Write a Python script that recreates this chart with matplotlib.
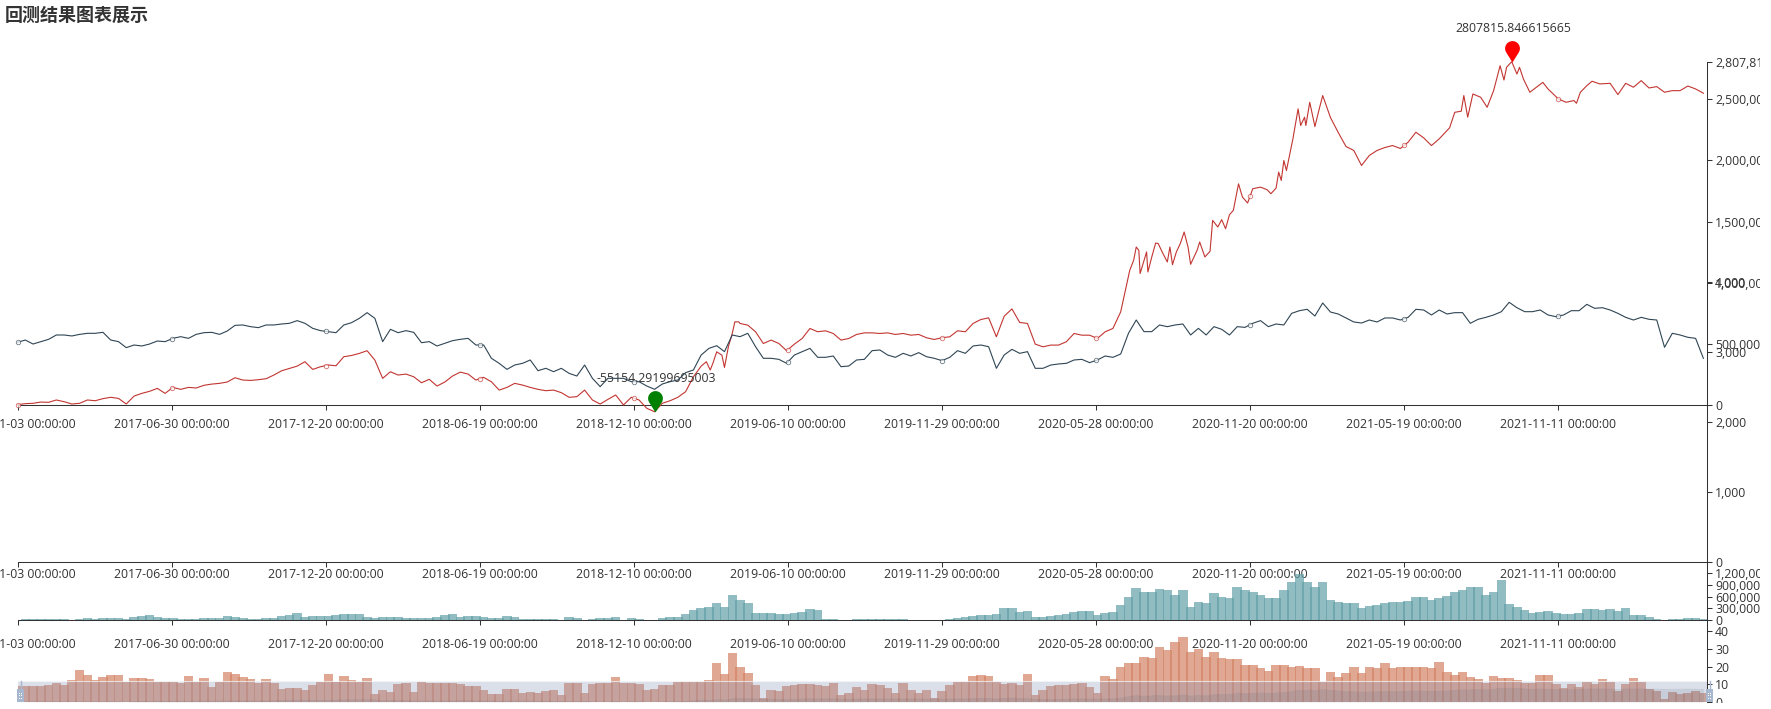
import numpy as np
import matplotlib
matplotlib.use("Agg")
import matplotlib.pyplot as plt
from matplotlib.lines import Line2D
from matplotlib.patches import Rectangle
from matplotlib.path import Path

plt.rcParams['font.family'] = ['Open Sans', 'Noto Sans CJK SC', 'DejaVu Sans']

W, H = 1771, 709
INK = '#333333'
PX = 72 / 100  # points per pixel at dpi 100
LABEL_SIZE = 12.3 * PX

title = '回测结果图表展示'
tick_dates = ['2017-01-03', '2017-06-30', '2017-12-20', '2018-06-19', '2018-12-10', '2019-06-10',
              '2019-11-29', '2020-05-28', '2020-11-20', '2021-05-19', '2021-11-11']
days_per_tick = 119
total_days = 1304.8
sample_step = 6

peak_value = 2807815.846615665
trough_value = -55154.29199695003

# strategy equity, thousands, one reading every six trading days
equity_k = [
    3, 11, 14, 24, 22, 41, 27, 8, 14, 41, 35, 52, 63, 54, 8, 73, 95, 112, 136, 95,
    144, 128, 144, 139, 161, 171, 177, 188, 223, 204, 201, 207, 215, 245, 280, 299, 318, 354, 291, 313,
    327, 321, 395, 405, 422, 444, 367, 218, 272, 245, 253, 231, 182, 210, 155, 188, 237, 269, 253, 204,
    226, 190, 122, 144, 177, 163, 144, 128, 117, 122, 101, 63, 68, 122, 41, 8, 46,
    82, 0, 63, 41, -27, -55, 14, 35, 63, 109, 231, 318, 354, 422, 307, 667, 667, 653, 599, 503,
    531, 503, 444, 498, 544, 626, 599, 607, 585, 531, 544, 577, 590, 590, 585, 590, 577, 585, 571, 577,
    550, 536, 550, 558, 607, 599, 667, 699, 713, 558, 726, 786, 675, 667, 498, 476, 490, 490, 517, 585,
    571, 571, 544, 599, 626, 762, 939, 1265, 1184, 1211, 1292, 1197, 1252, 1401, 1151, 1292, 1216, 1510, 1510, 1551,
    1796, 1701, 1769, 1777, 1755, 1782, 1994, 2177, 2394, 2394, 2277,
    2531, 2351, 2229, 2114, 2082, 1959, 2041, 2082, 2106, 2122, 2098,
    2150, 2231, 2185, 2122, 2177, 2218, 2386, 2517, 2435, 2522, 2435, 2571, 2762, 2808, 2713, 2626, 2577, 2631, 2585, 2517,
    2476, 2490, 2544, 2612, 2639,
    2593, 2631, 2539, 2631, 2599, 2653, 2593, 2604, 2558, 2571, 2571, 2609, 2585, 2550,
]

# closer readings through the most volatile stretches of the equity curve
equity_detail_days = [
    528, 532, 535, 537, 540, 544, 546, 549, 552, 554, 557,
    859, 862, 864, 866, 867, 872, 873, 876, 879, 881, 884, 888, 890, 892, 895, 898, 901, 904, 906, 911,
    913, 917, 921, 923, 927, 930, 933, 936, 939, 943, 946, 950, 954, 960, 965, 968, 972, 974, 976, 978,
    980, 985, 987, 989, 991, 994, 995, 998, 1002, 1005,
    1106, 1110, 1115, 1117, 1120, 1124, 1130, 1135, 1140, 1145, 1148, 1150, 1154, 1158, 1160, 1163, 1168,
    1173, 1178, 1182, 1190, 1196, 1202, 1204, 1207, 1212, 1216, 1222,
]
equity_detail_k = [
    318, 354, 286, 340, 435, 408, 307, 476, 585, 680, 680,
    1102, 1184, 1292, 1265, 1075, 1252, 1088, 1211, 1325, 1320, 1252, 1170, 1292, 1148, 1252, 1320, 1415, 1292, 1151, 1265,
    1333, 1211, 1257, 1510, 1456, 1516, 1442, 1556, 1592, 1809, 1701, 1652, 1769, 1782, 1761, 1728, 1774, 1905, 1837, 2000,
    1918, 2177, 2299, 2422, 2286, 2354, 2286, 2476, 2277, 2408,
    2267, 2394, 2403, 2531, 2354, 2544, 2517, 2435, 2571, 2775, 2658, 2762, 2808, 2707, 2762, 2667, 2558,
    2599, 2639, 2585, 2503, 2476, 2490, 2468, 2558, 2612, 2648, 2626,
]

# benchmark level, read against the 0-4,000 axis
benchmark = [
    3138, 3171, 3114, 3148, 3181, 3243, 3243, 3229, 3252, 3267, 3267, 3281, 3171, 3148, 3062, 3100, 3086, 3114, 3157, 3148,
    3195, 3219, 3195, 3252, 3276, 3281, 3252, 3300, 3381, 3386, 3362, 3348, 3386, 3386, 3400, 3410, 3448, 3410, 3338, 3305,
    3291, 3276, 3386, 3419, 3481, 3562, 3481, 3148, 3324, 3276, 3305, 3281, 3133, 3148, 3086, 3124, 3162, 3181, 3195, 3100,
    3100, 2910, 2838, 2752, 2814, 2838, 2886, 2733, 2767, 2719, 2767, 2695, 2657, 2814, 2624, 2505, 2624,
    2624, 2624, 2576, 2576, 2514, 2467, 2543, 2576, 2600, 2705, 2743, 2957, 3052, 3090, 3005, 3243, 3219, 3267, 3076, 2910,
    2910, 2895, 2838, 2957, 3005, 3052, 2924, 2924, 2943, 2790, 2800, 2886, 2895, 3019, 3029, 2957, 2924, 2981, 2943, 2991,
    2933, 2910, 2876, 2924, 3019, 2981, 3086, 3100, 3076, 2767, 2957, 3038, 2981, 3005, 2767, 2767, 2814, 2829, 2838, 2886,
    2895, 2848, 2886, 2943, 2924, 2971, 3267, 3457, 3291, 3291, 3386, 3362, 3386, 3400, 3243, 3338, 3243, 3362, 3324, 3243,
    3362, 3352, 3410, 3448, 3362, 3400, 3386, 3552, 3590, 3610, 3514,
    3700, 3571, 3543, 3486, 3429, 3414, 3457, 3429, 3486, 3486, 3457,
    3495, 3610, 3600, 3529, 3600, 3543, 3562, 3562, 3410, 3467, 3495, 3529, 3576, 3710, 3633, 3576, 3576, 3600, 3529, 3505,
    3529, 3590, 3590, 3681, 3624, 3633, 3600, 3552, 3495, 3457, 3495, 3467, 3457, 3067, 3267, 3243, 3210, 3195, 2910,
]

# position value, thousands
position_k = [
    8, 17, 25, 34, 25, 34, 34, 8, 25, 42, 34, 42, 59, 51, 25, 68, 101, 127, 85, 59,
    59, 25, 34, 25, 42, 59, 51, 93, 85, 42, 17, 25, 51, 59, 101, 118, 169, 85, 93, 93,
    110, 127, 144, 161, 152, 68, 59, 85, 85, 68, 51, 42, 51, 42, 85, 127, 161, 68, 93, 93,
    68, 42, 51,
    101, 85, 34, 25, 34, 34, 17, 8, 68, 42, 8, 25, 51, 42, 68, 8, 59, 25, 8, 8,
    59, 76, 85, 152, 254, 313, 321, 423, 338, 634, 507, 439, 169, 169, 186, 152, 144, 169, 211, 279,
    254, 17, 25, -17, 8, 17, 34, 25, 25, 17, 25, 25, 8, 8, 8, 8, 8, 17, 51, 68,
    101, 127, 135, 152,
    296, 313, 211, 237, 85, 85, 101, 127, 152, 211, 228, 228, 127, 169, 211, 380, 592, 820, 718, 718,
    803, 761, 634, 777, 338, 465, 423, 693, 592, 549, 845, 761, 718, 634, 549, 549, 761, 972, 1183, 972,
    845, 972, 507, 465, 423, 423, 296, 355, 380, 439, 465, 465, 490, 592, 575, 507, 549, 608, 718, 761,
    845, 845, 634, 718,
    1014, 397, 338, 254, 186, 211, 237, 186, 144, 152, 186, 270, 279, 254, 279, 237, 296, 118, 127, 85,
    17, 8, 17, 34, 51, 51, 17,
]

# holding count
holdings = [
    8.8, 8.8, 8.8, 8.8, 9.8, 10.7, 9.8, 12.6, 17.9, 15.0, 12.2, 14.1, 15.0, 15.0, 11.3, 13.7, 13.7, 13.2, 11.3, 11.3,
    11.3, 10.7, 14.5, 11.3, 13.7, 8.5, 11.3, 16.9, 15.6, 14.1, 13.2, 10.7, 13.2, 10.7, 7.5, 7.9, 7.9, 6.6, 9.4, 11.3,
    15.6, 11.3, 14.5, 12.2, 11.3, 13.7, 4.7, 6.6, 5.6, 10.3, 10.7, 5.6, 11.3, 10.7, 10.7, 10.7, 10.7, 10.0, 9.0, 9.0,
    6.6, 4.3, 4.3,
    7.1, 7.1, 5.3, 5.8, 5.3, 6.4, 6.8, 3.9, 10.5, 10.5, 5.3, 10.0, 10.9, 10.5, 14.3, 10.5, 10.5, 10.2, 6.8, 7.1,
    9.6, 9.6, 11.1, 11.1, 11.1, 11.1, 12.4, 21.8, 15.8, 27.4, 19.9, 16.5, 9.6, 2.1, 6.8, 6.4, 9.0, 9.6, 10.2, 10.2,
    9.6, 9.0, 10.5, 3.9, 4.9, 8.3, 6.8, 10.2, 9.6, 7.7, 4.9, 10.9, 6.8, 5.3, 6.8, 2.1, 6.4, 9.6, 11.1, 11.1,
    14.7, 15.2, 14.7, 11.5,
    10.2, 10.5, 9.6, 15.8, 3.9, 6.8, 9.0, 9.6, 9.6, 10.2, 10.9, 8.6, 5.3, 14.7, 13.0, 19.6, 22.2, 22.2, 25.6, 24.6,
    31.2, 29.3, 34.0, 36.8, 28.4, 29.7, 25.2, 28.4, 24.6, 24.1, 24.1, 20.9, 20.9, 19.0, 17.7, 20.9, 20.9, 19.9, 20.3, 19.0,
    19.0, 11.5, 17.1, 14.3, 16.2, 19.9, 16.2, 19.9, 19.0, 21.8, 19.0, 19.9, 19.9, 19.9, 19.9, 19.0, 22.7, 17.1, 15.2, 17.1,
    14.3, 12.8, 10.5, 14.7,
    13.7, 13.7, 12.2, 10.7, 10.7, 15.0, 15.0, 10.3, 7.9, 10.0, 8.5, 11.3, 10.3, 12.8, 11.3, 6.2, 10.3, 13.7, 11.3, 7.5,
    6.2, 1.9, 5.6, 4.7, 5.1, 6.2, 5.1,
]

assert len(equity_k) == len(benchmark) == len(position_k) == len(holdings)
assert len(equity_detail_days) == len(equity_detail_k)

days = np.arange(len(benchmark), dtype=float) * sample_step

# merge the closer readings into the six-day series
detail_days = np.array(equity_detail_days, dtype=float)
detail_spans = ((528, 557), (858, 1005), (1104, 1224))
keep = np.ones(len(days), dtype=bool)
for lo, hi in detail_spans:
    keep &= ~((days >= lo) & (days <= hi))
equity_days = np.concatenate([days[keep], detail_days])
equity = np.concatenate([np.array(equity_k, dtype=float)[keep], np.array(equity_detail_k, dtype=float)]) * 1000
order = np.argsort(equity_days)
equity_days, equity = equity_days[order], equity[order]

i_max, i_min = int(np.argmax(equity)), int(np.argmin(equity))
equity[i_max] = peak_value
equity[i_min] = trough_value

tick_days = np.arange(len(tick_dates)) * days_per_tick
tick_labels = [d + ' 00:00:00' for d in tick_dates]

fig = plt.figure(figsize=(W / 100, H / 100), dpi=100, facecolor='white')

X0, X1 = 17.5, 1707.0


def band(top, bottom, x0=X0, x1=X1):
    ax = fig.add_axes([x0 / W, 1 - bottom / H, (x1 - x0) / W, (bottom - top) / H])
    ax.patch.set_alpha(0)
    for side in ('top', 'left', 'right', 'bottom'):
        ax.spines[side].set_visible(False)
    ax.set_xlim(0, total_days)
    return ax


def style_axis(ax, yticks, ylabels, date_pad, show_dates=True):
    ax.yaxis.tick_right()
    ax.set_yticks(yticks, ylabels)
    ax.tick_params(axis='y', length=5 * PX, width=0.75, color=INK, pad=3 * PX,
                   labelsize=LABEL_SIZE, labelcolor=INK)
    if show_dates:
        ax.spines['bottom'].set_visible(True)
        ax.spines['bottom'].set_color(INK)
        ax.spines['bottom'].set_linewidth(0.75)
        ax.set_xticks(tick_days, tick_labels)
        ax.tick_params(axis='x', length=5 * PX, width=0.75, color=INK, pad=date_pad * PX,
                       labelsize=LABEL_SIZE, labelcolor=INK)
    else:
        ax.set_xticks([])


ax_equity = band(61.7, 405)
ax_bench = band(282, 562)
ax_pos = band(573, 620)
ax_hold = band(631, 702)
ax_slider = band(681, 702)

ax_equity.set_ylim(0, peak_value)
style_axis(ax_equity, [0, 500000, 1000000, 1500000, 2000000, 2500000, peak_value],
           ['0', '500,000', '1,000,000', '1,500,000', '2,000,000', '2,500,000', '2,807,815'], 8)
ax_bench.set_ylim(0, 4000)
style_axis(ax_bench, [0, 1000, 2000, 3000, 4000], ['0', '1,000', '2,000', '3,000', '4,000'], 1)
ax_pos.set_ylim(0, 1200000)
style_axis(ax_pos, [0, 300000, 600000, 900000, 1200000],
           ['0', '300,000', '600,000', '900,000', '1,200,000'], 13)
ax_hold.set_ylim(0, 40)
style_axis(ax_hold, [0, 10, 20, 30, 40], ['0', '10', '20', '30', '40'], 0, show_dates=False)

# lines with hollow markers at the labelled dates
for ax, xs, values, color in ((ax_equity, equity_days, equity, '#c23531'),
                              (ax_bench, days, np.array(benchmark, float), '#2f4554')):
    ax.plot(xs, values, color=color, lw=0.8, clip_on=False, solid_joinstyle='round', zorder=3)
    ax.plot(tick_days, np.interp(tick_days, xs, values), ls='none', marker='o', ms=4.5 * PX,
            mfc='white', mec=color, mew=0.6, alpha=0.7, clip_on=False, zorder=4)

# bars overlap slightly so the seams read as darker stripes
bar_w = sample_step * 1.22
ax_pos.bar(days, np.array(position_k) * 1000, width=bar_w, color='#61a0a8', alpha=0.7, lw=0, clip_on=False)
ax_hold.bar(days, holdings, width=bar_w, color='#d48265', alpha=0.7, lw=0)

# extremes marked with pins whose tips rest on the points
theta = np.radians(np.linspace(-30, 210, 49))
R, C = 7.4, 14.0
pin = np.column_stack([R * np.cos(theta), C + R * np.sin(theta)])
pin = Path(np.vstack([[0, 0], pin, [0, 0]]), closed=True)
pin_size = 2 * (C + R) * PX
for idx, value, color, text in ((i_max, peak_value, '#ff0000', '2807815.846615665'),
                                (i_min, trough_value, '#008000', '-55154.29199695003')):
    ax_equity.plot(equity_days[idx], value, marker=pin, ms=pin_size, mfc=color, mec=color, mew=0,
                   clip_on=False, zorder=6)
    ax_equity.annotate(text, (equity_days[idx], value), xytext=(1, 33.5 * PX), textcoords='offset points',
                       ha='center', va='center', fontsize=LABEL_SIZE, color=INK, zorder=7,
                       annotation_clip=False)

# range selector laid over the lowest band
ax_slider.set_ylim(-0.02e6, 4.3e6)
ax_slider.set_yticks([])
ax_slider.set_xticks([])
ax_slider.fill_between(equity_days, -0.02e6, equity, color='#2f4554', alpha=0.13, lw=0, zorder=2)
ax_slider.plot(equity_days, equity, color='#2f4554', alpha=0.14, lw=0.7, zorder=2)
ax_slider.add_patch(Rectangle((0, 0), 1, 1, transform=ax_slider.transAxes, fc='#8798b9', alpha=0.3, lw=0, zorder=3))
ax_slider.plot([0, 1], [1, 1], transform=ax_slider.transAxes, color='white', alpha=0.65, lw=0.8, zorder=4, clip_on=False)


def fig_rect(x0, y0, x1, y1, color, z=50, alpha=1.0):
    fig.add_artist(Rectangle((x0 / W, 1 - y1 / H), (x1 - x0) / W, (y1 - y0) / H,
                             transform=fig.transFigure, fc=color, ec='none', alpha=alpha, zorder=z))


def fig_line(x0, y0, x1, y1, color, lw, z=40):
    fig.add_artist(Line2D([x0 / W, x1 / W], [1 - y0 / H, 1 - y1 / H], transform=fig.transFigure,
                          color=color, lw=lw, zorder=z))


fig_line(X1, 61.7, X1, 702, INK, 0.75, z=30)

# slider handles at both ends
for hx in (20.5, 1709.5):
    fig_line(hx, 681, hx, 690, '#a7b7d0', 1.0, z=41)
    fig_rect(hx - 3.5, 689, hx + 3.5, 702, '#a7b7d0', z=42)
    for dy in (692.5, 695, 698):
        fig_rect(hx - 1.5, dy, hx - 0.5, dy + 1, 'white', z=43)
        fig_rect(hx + 0.5, dy, hx + 1.5, dy + 1, 'white', z=43)

# the drawing area stops short of the image's right and lower edges
fig_rect(0, 702.5, W, H, 'white', z=60)
fig_rect(1759.5, 0, W, H, 'white', z=60)

fig.text(5 / W, 1 - 16 / H, title, fontsize=18 * PX, fontweight='bold', color=INK, ha='left', va='center',
         family=['Noto Sans CJK SC', 'DejaVu Sans'])

fig.savefig('out.png', dpi=100, facecolor='white')
